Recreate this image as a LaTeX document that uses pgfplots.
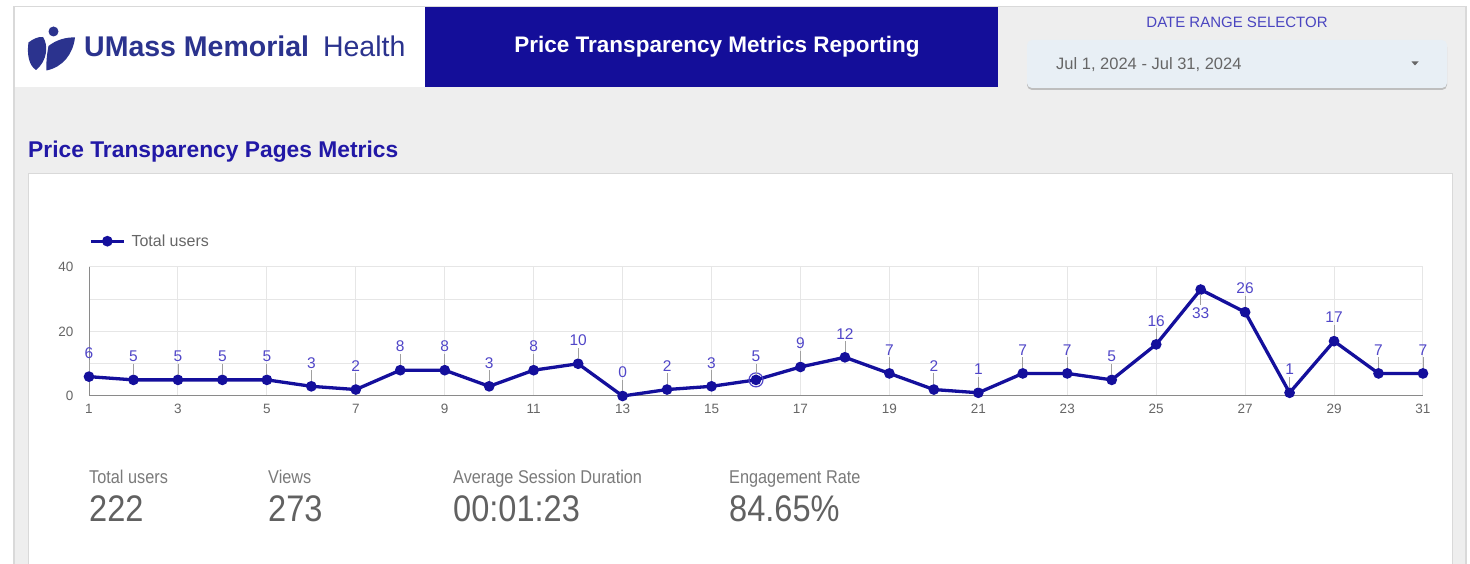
\documentclass[border=0pt]{standalone}
\usepackage{pgfplots}
\pgfplotsset{compat=1.18}
\usepackage{pgfplotstable}
\usepackage{fontspec}
\setmainfont{Liberation Sans}
\newfontfamily\condfont[FakeStretch=0.88]{Liberation Sans}
\usetikzlibrary{shadows}

\definecolor{bggray}{HTML}{EEEEEE}
\definecolor{bordergray}{HTML}{D9D9D9}
\definecolor{banner}{HTML}{140E99}
\definecolor{logoblue}{HTML}{2B338E}
\definecolor{dateblue}{HTML}{4A45C0}
\definecolor{ddfill}{HTML}{E8EFF5}
\definecolor{textgray}{HTML}{666666}
\definecolor{kpilabel}{HTML}{7A7A7A}
\definecolor{kpival}{HTML}{616161}
\definecolor{sectblue}{HTML}{2118A6}
\definecolor{linecol}{HTML}{140F9C}
\definecolor{lblblue}{HTML}{5046C8}
\definecolor{tickgray}{HTML}{A0A0A0}
\definecolor{gridgray}{HTML}{E6E6E6}
\definecolor{axisgray}{HTML}{8A8A8A}

\pgfplotstableread{
day users
1 6
2 5
3 5
4 5
5 5
6 3
7 2
8 8
9 8
10 3
11 8
12 10
13 0
14 2
15 3
16 5
17 9
18 12
19 7
20 2
21 1
22 7
23 7
24 5
25 16
26 33
27 26
28 1
29 17
30 7
31 7
}\users

\pgfplotstableread{
day users
26 33
}\usersbelow

\begin{document}
\begin{tikzpicture}[x=1pt,y=1pt]
\useasboundingbox (0,0) rectangle (1470,564);
\fill[white] (0,0) rectangle (1470,564);
\fill[bggray] (14,0) rectangle (1466,557);
\draw[bordergray, line width=1.5pt] (14,0) -- (14,557.5) -- (1466,557.5) -- (1466,0);
% header
\fill[white] (15,477) rectangle (425,557);
\fill[banner] (425,477) rectangle (998,557);
% logo
\fill[logoblue] (28.5,521.5) .. controls (33,525) and (38,527.5) .. (43,527) .. controls (48.5,519) and (47.5,503) .. (36,494) .. controls (28,499) and (27,512) .. cycle;
\fill[logoblue] (48.5,518) .. controls (56,524) and (66,527) .. (75,526.5) .. controls (73,510) and (63,497) .. (46.5,493.5) .. controls (46,502) and (47,510) .. cycle;
\fill[logoblue] (53.5,532.5) circle (5);
\node[anchor=base west, inner sep=0, text=logoblue] at (84,507) {\fontsize{28.5}{30}\selectfont\bfseries UMass Memorial\hspace{6pt} \mdseries Health};
\node[text=white, font=\fontsize{22.5}{26}\selectfont\bfseries] at (717,517) {Price Transparency Metrics Reporting};
% date selector
\node[text=dateblue, font=\fontsize{15}{18}\selectfont] at (1237,541.5) {DATE RANGE SELECTOR};
\fill[ddfill, rounded corners=5pt, drop shadow={shadow xshift=0pt, shadow yshift=-2pt, opacity=0.35, fill=black!60}] (1027,476) rectangle (1447,524);
\node[anchor=west, inner sep=0, text=textgray, font=\fontsize{16.5}{20}\selectfont] at (1056,499.5) {Jul 1, 2024 - Jul 31, 2024};
\fill[textgray] (1411.5,502.5) -- (1418.5,502.5) -- (1415,498.5) -- cycle;
% section title
\node[anchor=west, inner sep=0, text=sectblue, font=\fontsize{22.8}{26}\selectfont\bfseries] at (28,412) {Price Transparency Pages Metrics};
% card
\filldraw[fill=white, draw=bordergray, line width=1pt] (28.5,-2) rectangle (1452.5,390);

\begin{axis}[
  at={(89pt,168pt)}, anchor=south west,
  width=1334pt, height=129pt, scale only axis,
  xmin=1, xmax=31, ymin=0, ymax=40,
  xtick={1,3,...,31}, ytick={0,10,20,30,40}, yticklabels={0,,20,,40},
  grid=major, grid style={gridgray, line width=1pt},
  axis lines=left, axis line style={axisgray, line width=1pt, -},
  major tick length=0pt,
  tick label style={text=textgray, font=\fontsize{13.5}{16}\selectfont},
  /pgf/number format/assume math mode=true,
  xticklabel style={yshift=-5pt},
  yticklabel style={xshift=-12pt},
  clip=false,
  legend style={at={(0,1.2)}, anchor=west, draw=none, fill=none, inner sep=0pt,
    font=\fontsize{16}{19}\selectfont, text=textgray,
    /tikz/every odd column/.append style={column sep=4pt}},
  legend image code/.code={\draw[#1, mark repeat=2, mark phase=2] plot coordinates {(-1pt,0pt) (15.5pt,0pt) (32pt,0pt)};},
]
\addplot[linecol, line width=3.3pt, mark=*, mark size=3.6pt, mark options={solid}] table[x=day,y=users]{\users};
\addlegendentry{Total users}
\addplot[only marks, mark=o, mark size=7pt, mark options={draw=lblblue, line width=1.2pt}, forget plot] coordinates {(16,5)};
% labels above
\addplot[draw=none, mark=none, forget plot, skip coords between index={25}{26},
  nodes near coords={\pgfmathprintnumber{\pgfplotspointmeta}\\{\color{tickgray}\rule{0.8pt}{11pt}}},
  every node near coord/.append style={anchor=south, align=center, inner sep=0pt, yshift=5pt, font=\fontsize{15.5}{13}\selectfont, text=lblblue}]
  table[x=day,y=users]{\users};
% label below
\addplot[draw=none, mark=none, forget plot,
  nodes near coords={{\color{tickgray}\rule{0.8pt}{11pt}}\\\pgfmathprintnumber{\pgfplotspointmeta}},
  every node near coord/.append style={anchor=north, align=center, inner sep=0pt, yshift=-4pt, font=\fontsize{15.5}{14}\selectfont, text=lblblue}]
  table[x=day,y=users]{\usersbelow};
\end{axis}

% KPIs
\node[anchor=base west, inner sep=0, text=kpilabel, font=\condfont\fontsize{18.5}{22}\selectfont] at (89,80) {Total users};
\node[anchor=base west, inner sep=0, text=kpilabel, font=\condfont\fontsize{18.5}{22}\selectfont] at (268,80) {Views};
\node[anchor=base west, inner sep=0, text=kpilabel, font=\condfont\fontsize{18.5}{22}\selectfont] at (453,80) {Average Session Duration};
\node[anchor=base west, inner sep=0, text=kpilabel, font=\condfont\fontsize{18.5}{22}\selectfont] at (729,80) {Engagement Rate};
\node[anchor=base west, inner sep=0, text=kpival, font=\condfont\fontsize{37}{40}\selectfont] at (89,42) {222};
\node[anchor=base west, inner sep=0, text=kpival, font=\condfont\fontsize{37}{40}\selectfont] at (268,42) {273};
\node[anchor=base west, inner sep=0, text=kpival, font=\condfont\fontsize{37}{40}\selectfont] at (453,42) {00:01:23};
\node[anchor=base west, inner sep=0, text=kpival, font=\condfont\fontsize{37}{40}\selectfont] at (729,42) {84.65\%};
\end{tikzpicture}
\end{document}
